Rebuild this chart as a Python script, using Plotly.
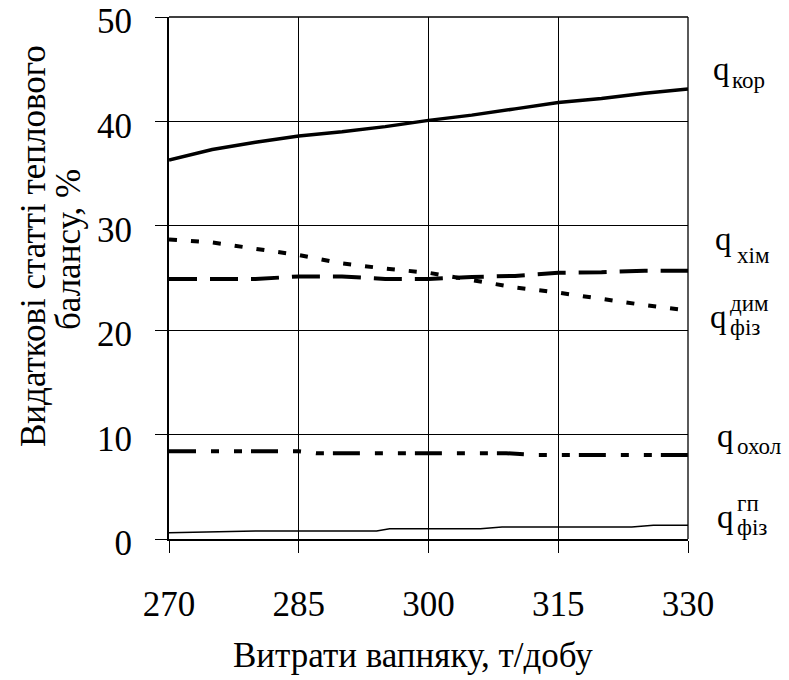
import plotly.graph_objects as go

# Limestone consumption, t/day
x_kor = [270, 275, 280, 285, 290, 295, 300, 305, 310, 315, 320, 325, 330]
q_kor = [36.3, 37.3, 38.0, 38.6, 39.0, 39.5, 40.1, 40.6, 41.2, 41.8, 42.2, 42.7, 43.1]

x_khim = [270, 275, 280, 285, 290, 295, 300, 305, 310, 315, 320, 325, 330]
q_khim = [24.9, 24.9, 24.9, 25.15, 25.15, 24.9, 24.9, 25.1, 25.2, 25.5, 25.55, 25.7, 25.7]

x_dym = [270, 275, 280, 285, 290, 295, 300, 305, 310, 315, 320, 325, 330]
q_dym = [28.7, 28.4, 27.8, 27.2, 26.4, 25.9, 25.5, 24.8, 24.1, 23.6, 23.0, 22.4, 21.9]

x_okhol = [270, 280, 285, 287, 295, 305, 309, 312.5, 320, 330]
q_okhol = [8.4, 8.4, 8.4, 8.22, 8.22, 8.22, 8.22, 8.05, 8.05, 8.05]

x_gp = [270, 280, 294, 295.5, 306, 308.5, 323.5, 326, 330]
q_gp = [0.6, 0.77, 0.77, 0.99, 0.99, 1.15, 1.15, 1.31, 1.31]

x_ticks = [270, 285, 300, 315, 330]
y_ticks = [0, 10, 20, 30, 40, 50]

FONT = "Liberation Serif"
BIG = 35   # tick labels and axis titles
Q = 33     # the "q" of the series labels
SUB = 23   # sub/superscripts of the series labels

fig = go.Figure()
fig.add_trace(go.Scatter(x=x_kor, y=q_kor, mode="lines",
                         line=dict(color="black", width=3.5)))
fig.add_trace(go.Scatter(x=x_khim, y=q_khim, mode="lines",
                         line=dict(color="black", width=4, dash="28px,13px")))
fig.add_trace(go.Scatter(x=x_dym, y=q_dym, mode="lines",
                         line=dict(color="black", width=4, dash="8px,14px")))
fig.add_trace(go.Scatter(x=x_okhol, y=q_okhol, mode="lines",
                         line=dict(color="black", width=4,
                                   dash="27px,15px,8px,15px,8px,9px")))
fig.add_trace(go.Scatter(x=x_gp, y=q_gp, mode="lines",
                         line=dict(color="black", width=1.5)))

L, R, T, B = 169, 101, 17, 141
W, H = 789, 680
PW, PH = W - L - R, H - T - B


def px(xp):
    return (xp - L) / PW


def py(yp):
    return (H - B - yp) / PH


annotations = []


def label(text, x_left, y_center, size):
    annotations.append(dict(text=text, xref="paper", yref="paper",
                            x=px(x_left), y=py(y_center),
                            xanchor="left", yanchor="middle",
                            showarrow=False,
                            font=dict(family=FONT, size=size, color="black")))


# series labels on the right side
label("q", 711, 68.7, Q)
label("кор", 730, 80.6, SUB)
label("q", 713, 238.7, Q)
label("хім", 735, 255.6, SUB)
label("q", 708, 316.5, Q)
label("дим", 728, 303.5, SUB)
label("фіз", 728, 327, SUB)
label("q", 715, 435.5, Q)
label("охол", 735, 446, SUB)
label("q", 715, 516.5, Q)
label("гп", 735, 503.5, SUB)
label("фіз", 735, 527, SUB)

# axis titles
annotations.append(dict(text="Видаткові статті теплового", xref="paper", yref="paper",
                        x=px(33), y=py(246), xanchor="center", yanchor="middle",
                        textangle=-90, showarrow=False,
                        font=dict(family=FONT, size=BIG, color="black")))
annotations.append(dict(text="балансу, %", xref="paper", yref="paper",
                        x=px(68), y=py(250), xanchor="center", yanchor="middle",
                        textangle=-90, showarrow=False,
                        font=dict(family=FONT, size=BIG, color="black")))
annotations.append(dict(text="Витрати вапняку, т/добу", xref="paper", yref="paper",
                        x=px(413), y=py(655), xanchor="center", yanchor="middle",
                        showarrow=False,
                        font=dict(family=FONT, size=BIG, color="black")))

fig.update_layout(
    width=W, height=H,
    margin=dict(l=L, r=R, t=T, b=B, pad=0, autoexpand=False),
    paper_bgcolor="white", plot_bgcolor="white",
    showlegend=False,
    font=dict(family=FONT, size=BIG, color="black"),
    annotations=annotations,
    shapes=[
        dict(type="line", xref="paper", yref="paper", x0=0, x1=1, y0=1, y1=1,
             line=dict(color="black", width=1.3)),
        dict(type="line", xref="paper", yref="paper", x0=1, x1=1, y0=0, y1=1,
             line=dict(color="black", width=1.3)),
    ],
)
fig.update_xaxes(range=[270, 330], tickvals=x_ticks, ticktext=[str(v) for v in x_ticks],
                 showgrid=True, gridcolor="black", gridwidth=1,
                 showline=True, linecolor="black", linewidth=1.5,
                 ticks="outside", ticklen=12, tickwidth=1, tickcolor="black",
                 ticklabelstandoff=21, zeroline=False, automargin=False,
                 ticklabeloverflow="allow",
                 tickfont=dict(family=FONT, size=BIG, color="black"))
fig.update_yaxes(range=[0, 50], tickvals=y_ticks,
                 showgrid=True, gridcolor="black", gridwidth=1,
                 showline=True, linecolor="black", linewidth=2,
                 ticks="outside", ticklen=12, tickwidth=1, tickcolor="black",
                 ticklabelstandoff=16, ticklabelshift=4, zeroline=False,
                 automargin=False, ticklabeloverflow="allow",
                 tickfont=dict(family=FONT, size=BIG, color="black"))

fig.write_html("out.html")
